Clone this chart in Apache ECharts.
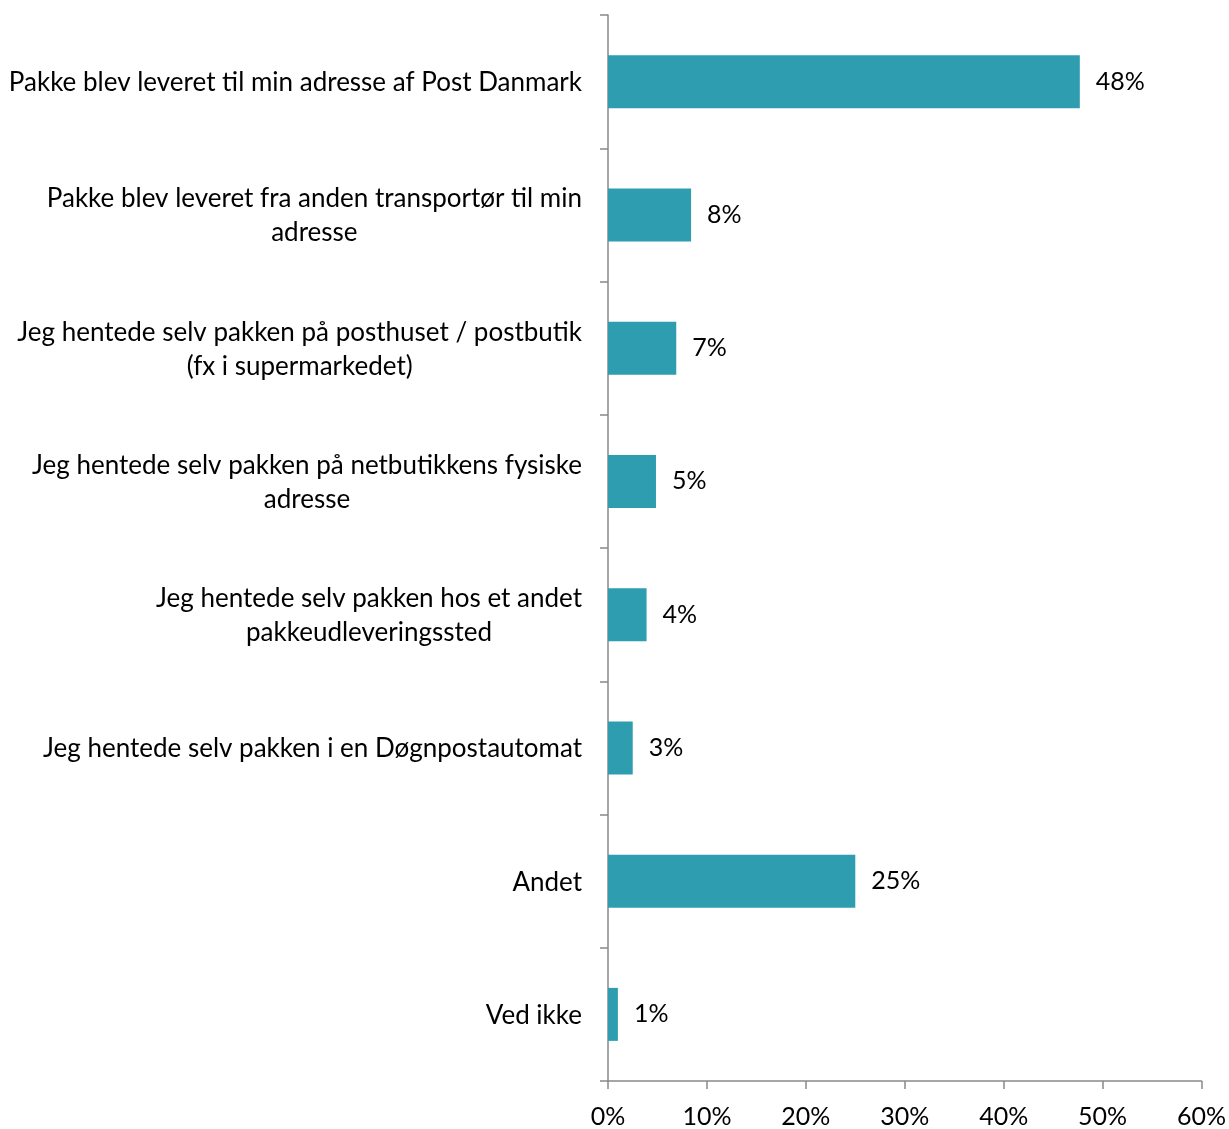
<!DOCTYPE html>
<html>
<head>
<meta charset="utf-8">
<script src="https://cdn.jsdelivr.net/npm/echarts@6/dist/echarts.min.js"></script>
<style>
  html, body { margin: 0; padding: 0; background: #fff; }
  #chart { width: 1229px; height: 1129px; }
</style>
</head>
<body>
<div id="chart"></div>
<script>
// How parcels were received (share of respondents, %)
const categories = [
  'Pakke blev leveret til min adresse af Post Danmark',
  'Pakke blev leveret fra anden transportør til min\nadresse',
  'Jeg hentede selv pakken på posthuset / postbutik\n(fx i supermarkedet)',
  'Jeg hentede selv pakken på netbutikkens fysiske\nadresse',
  'Jeg hentede selv pakken hos et andet\npakkeudleveringssted',
  'Jeg hentede selv pakken i en Døgnpostautomat',
  'Andet',
  'Ved ikke'
];
const shares = [47.7, 8.4, 6.9, 4.85, 3.9, 2.5, 25.0, 1.0];
const axisTicks = [0, 10, 20, 30, 40, 50, 60];

const FONT = 'Lato, "Open Sans", sans-serif';
const AXIS_GREY = '#898989';

const chart = echarts.init(document.getElementById('chart'), null, { renderer: 'canvas' });
chart.setOption({
  animation: false,
  grid: { left: 608, right: 27, top: 15, bottom: 45, containLabel: false },
  xAxis: {
    type: 'value',
    min: axisTicks[0],
    max: axisTicks[axisTicks.length - 1],
    interval: axisTicks[1] - axisTicks[0],
    axisLine: { show: true, lineStyle: { color: AXIS_GREY, width: 1.5 } },
    axisTick: { show: true, length: 8, lineStyle: { color: AXIS_GREY, width: 1.5 } },
    splitLine: { show: false },
    axisLabel: {
      margin: 23,
      fontFamily: FONT,
      fontSize: 25,
      color: '#000',
      formatter: v => v + '%'
    }
  },
  yAxis: {
    type: 'category',
    inverse: true,
    data: categories,
    axisLine: { show: true, lineStyle: { color: AXIS_GREY, width: 1.5 } },
    axisTick: { show: true, length: 8, lineStyle: { color: AXIS_GREY, width: 1.5 } },
    axisLabel: {
      margin: 26,
      color: '#000',
      fontFamily: FONT,
      fontSize: 26,
      lineHeight: 34,
      align: 'right',
      formatter: v => v.split('\n').map(line => '{c|' + line + '}').join('\n'),
      rich: {
        c: { align: 'center', fontFamily: FONT, fontSize: 26, lineHeight: 34, color: '#000', padding: [2, 0, 0, 0] }
      }
    }
  },
  series: [{
    type: 'bar',
    data: shares,
    barWidth: 53,
    itemStyle: { color: '#2E9DB0' },
    label: {
      show: true,
      position: 'right',
      distance: 16,
      color: '#000',
      fontFamily: FONT,
      fontSize: 25,
      padding: [6, 0, 0, 0],
      formatter: p => Math.round(p.value) + '%'
    }
  }]
});
</script>
</body>
</html>
